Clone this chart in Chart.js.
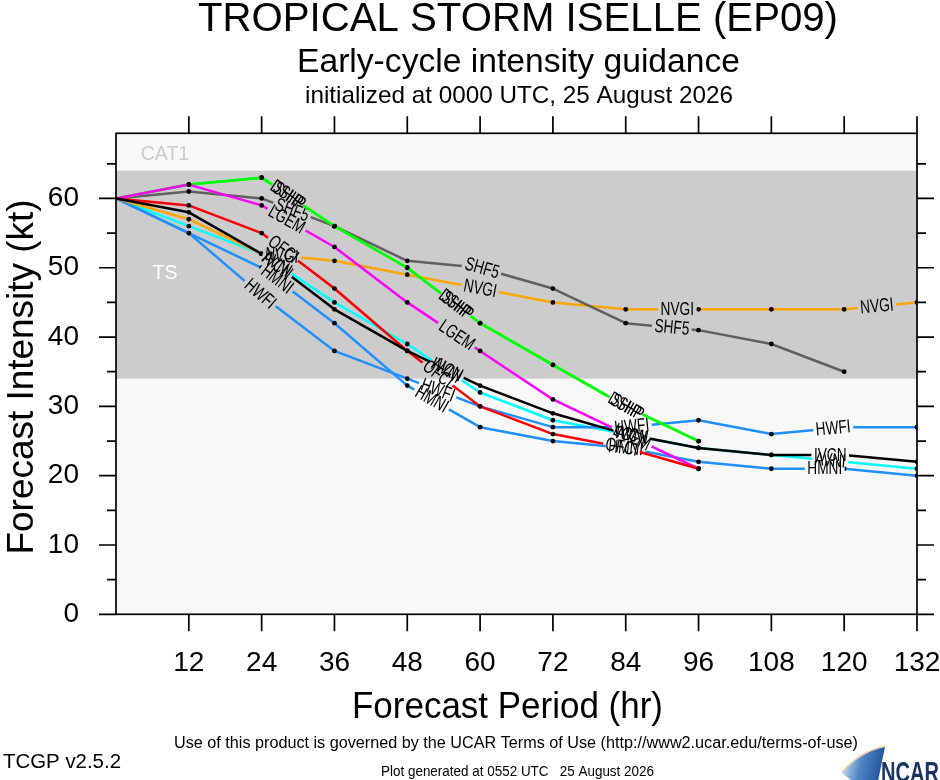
<!DOCTYPE html>
<html>
<head>
<meta charset="utf-8">
<script src="https://cdn.jsdelivr.net/npm/chart.js@4.4.1/dist/chart.umd.min.js"></script>
<style>
html,body{margin:0;padding:0;background:#ffffff;}
#wrap{width:940px;height:780px;position:relative;}
</style>
</head>
<body>
<div id="wrap"><canvas id="c" width="940" height="780"></canvas></div>
<script>
// ---------------- data ----------------
const hours  = [0, 12, 24, 36, 48, 60, 72, 84, 96, 108, 120, 132];
const xTicks = [12, 24, 36, 48, 60, 72, 84, 96, 108, 120, 132];
const yTicks = [0, 10, 20, 30, 40, 50, 60];
const yMinorTicks = [5, 15, 25, 35, 45, 55, 65];

const SHIP = [60, 62, 63, 56, 50, 42, 36, 30, 25, null, null, null];
const DSHP = [60, 62, 63, 56, 50, 42, 36, 30, 25, null, null, null];
const SHF5 = [60, 61, 60, 56, 51, 50, 47, 42, 41, 39, 35, null];
const LGEM = [60, 62, 59, 53, 45, 38, 31, 26, 21, null, null, null];
const OFCI = [60, 59, 55, 47, 38, 30, 26, 24, 21, null, null, null];
const NVGI = [60, 57, 52, 51, 49, 47, 45, 44, 44, 44, 44, 45];
const IVCN = [60, 58, 52, 44, 38, 33, 29, 26, 24, 23, 23, 22];
const AVNI = [60, 56, 52, 45, 39, 32, 28, 26, 24, 23, 22, 21];
const HWFI = [60, 55, 46, 38, 34, 30, 27, 27, 28, 26, 27, 27];
const HMNI = [60, 55, 50, 42, 33, 27, 25, 24, 22, 21, 21, 20];

const bandTS   = [34, 64];   // tropical storm intensity band (kt)
const bandText = ['CAT1', 'TS'];

const titleText    = 'TROPICAL STORM ISELLE (EP09)';
const subtitleText = 'Early-cycle intensity guidance';
const initText     = 'initialized at 0000 UTC, 25 August 2026';
const xTitleText   = 'Forecast Period (hr)';
const yTitleText   = 'Forecast Intensity (kt)';
const footerText   = 'Use of this product is governed by the UCAR Terms of Use (http://www2.ucar.edu/terms-of-use)';
const versionText  = 'TCGP v2.5.2';
const generatedText= 'Plot generated at 0552 UTC   25 August 2026';
const logoText     = 'NCAR';

// ---------------- styling (bottom-to-top draw order) ----------------
const seriesStyle = [
  {name:'AVNI', values:AVNI, color:'#00ffff', labelHours:[26.5, 54.5, 85, 117.7]},
  {name:'HWFI', values:HWFI, color:'#1e90ff', labelHours:[23.7, 53, 85, 118.2]},
  {name:'HMNI', values:HMNI, color:'#1e90ff', labelHours:[26.5, 52, 84, 116.8]},
  {name:'NVGI', values:NVGI, color:'#ffa500', labelHours:[27.3, 60, 92.5, 125.4]},
  {name:'SHF5', values:SHF5, color:'#606060', labelHours:[29, 60.3, 91.6]},
  {name:'DSHP', values:DSHP, color:'#00ff00', labelHours:[28.3, 56, 84]},
  {name:'SHIP', values:SHIP, color:'#00ff00', labelHours:[28.3, 56, 84]},
  {name:'LGEM', values:LGEM, color:'#ff00ff', labelHours:[28.1, 56.1, 85]},
  {name:'OFCI', values:OFCI, color:'#ff0000', labelHours:[27.5, 53, 83.3]},
  {name:'IVCN', values:IVCN, color:'#000000', labelHours:[26.5, 54.5, 85, 117.7]}
];

const FONT = '"Liberation Sans", Arial, Helvetica, sans-serif';
const LABEL_SIZE = 19, LABEL_SQUASH = 0.72;

const datasets = seriesStyle.map((s, i) => ({
  label: s.name,
  data: hours.map((h, k) => ({x: h, y: s.values[k]})).filter(p => p.y !== null),
  borderColor: s.color,
  backgroundColor: s.color,
  borderWidth: 2.5,
  pointRadius: ctx => (ctx.raw && ctx.raw.x === 0) ? 0 : 2.4,
  pointHoverRadius: 2.4,
  pointBackgroundColor: '#000000',
  pointBorderWidth: 0,
  tension: 0,
  fill: false,
  order: seriesStyle.length - i,
  labelHours: s.labelHours
}));

// ---------------- helpers ----------------
function fitText(ctx, text, x, y, opt) {
  ctx.save();
  ctx.font = (opt.weight || 'normal') + ' ' + opt.size + 'px ' + (opt.family || FONT);
  ctx.fillStyle = opt.color || '#000000';
  ctx.textBaseline = opt.baseline || 'alphabetic';
  ctx.textAlign = 'center';
  const w = ctx.measureText(text).width;
  const sx = opt.width ? opt.width / w : (opt.squash || 1);
  ctx.translate(x, y);
  if (opt.rotate) ctx.rotate(opt.rotate);
  ctx.scale(sx, 1);
  ctx.fillText(text, 0, 0);
  ctx.restore();
}

function labelBoxes(chart, idx) {
  const ds = chart.data.datasets[idx];
  const xs = chart.scales.x, ys = chart.scales.y;
  const pts = ds.data;
  const ctx = chart.ctx;
  ctx.save();
  ctx.font = LABEL_SIZE + 'px ' + FONT;
  const tw = ctx.measureText(ds.label).width * LABEL_SQUASH;
  ctx.restore();
  const out = [];
  (ds.labelHours || []).forEach(h => {
    for (let i = 0; i < pts.length - 1; i++) {
      const a = pts[i], b = pts[i + 1];
      if (h >= a.x && h <= b.x) {
        const t = (h - a.x) / (b.x - a.x);
        const v = a.y + (b.y - a.y) * t;
        const x1 = xs.getPixelForValue(a.x), y1 = ys.getPixelForValue(a.y);
        const x2 = xs.getPixelForValue(b.x), y2 = ys.getPixelForValue(b.y);
        out.push({x: xs.getPixelForValue(h), y: ys.getPixelForValue(v),
                  a: Math.atan2(y2 - y1, x2 - x1), w: tw, text: ds.label});
        break;
      }
    }
  });
  return out;
}

// ---------------- plugins ----------------
const bandPlugin = {
  id: 'bands',
  beforeDatasetsDraw(chart) {
    const {ctx, chartArea: ca, scales: {y}} = chart;
    ctx.save();
    ctx.fillStyle = '#f8f8f8';
    ctx.fillRect(ca.left, ca.top, ca.right - ca.left, ca.bottom - ca.top);
    const yTop = y.getPixelForValue(bandTS[1]);
    const yBot = y.getPixelForValue(bandTS[0]);
    ctx.fillStyle = '#cccccc';
    ctx.fillRect(ca.left, yTop, ca.right - ca.left, yBot - yTop);
    ctx.restore();
    fitText(ctx, bandText[0], ca.left + 49, (ca.top + yTop) / 2 + 7.5, {size: 21, color: '#cbcbcb', squash: 0.93});
    fitText(ctx, bandText[1], ca.left + 49, y.getPixelForValue(49.5) + 8, {size: 21, color: '#ffffff', squash: 0.93});
  }
};

const lineLabelPlugin = {
  id: 'lineLabels',
  beforeDatasetDraw(chart, args) {
    const ctx = chart.ctx;
    const boxes = labelBoxes(chart, args.index);
    ctx.save();
    ctx.beginPath();
    ctx.rect(0, 0, chart.width, chart.height);
    boxes.forEach(b => {
      const c = Math.cos(b.a), s = Math.sin(b.a);
      const hw = b.w / 2 + 2.5, hh = 8;
      const corners = [[-hw, -hh], [hw, -hh], [hw, hh], [-hw, hh]].map(([u, v]) => [b.x + u * c - v * s, b.y + u * s + v * c]);
      ctx.moveTo(corners[0][0], corners[0][1]);
      for (let k = 1; k < 4; k++) ctx.lineTo(corners[k][0], corners[k][1]);
      ctx.closePath();
    });
    ctx.clip('evenodd');
  },
  afterDatasetDraw(chart, args) {
    const ctx = chart.ctx;
    ctx.restore();
    labelBoxes(chart, args.index).forEach(b => {
      fitText(ctx, b.text, b.x, b.y + 0.5, {size: LABEL_SIZE, squash: LABEL_SQUASH, baseline: 'middle', rotate: b.a, color: '#000000'});
    });
  }
};

const framePlugin = {
  id: 'frame',
  afterDraw(chart) {
    const {ctx, chartArea: ca, scales: {x, y}} = chart;
    ctx.save();
    ctx.strokeStyle = '#000000';
    ctx.lineWidth = 1.7;
    ctx.strokeRect(ca.left, ca.top, ca.right - ca.left, ca.bottom - ca.top);
    ctx.beginPath();
    const major = 17, minor = 9;
    xTicks.forEach(v => {
      const px = x.getPixelForValue(v);
      ctx.moveTo(px, ca.bottom); ctx.lineTo(px, ca.bottom + major);
      ctx.moveTo(px, ca.top); ctx.lineTo(px, ca.top - major);
    });
    yTicks.forEach(v => {
      const py = y.getPixelForValue(v);
      ctx.moveTo(ca.left, py); ctx.lineTo(ca.left - major, py);
      ctx.moveTo(ca.right, py); ctx.lineTo(ca.right + major, py);
    });
    yMinorTicks.forEach(v => {
      const py = y.getPixelForValue(v);
      ctx.moveTo(ca.left, py); ctx.lineTo(ca.left - minor, py);
      ctx.moveTo(ca.right, py); ctx.lineTo(ca.right + minor, py);
    });
    ctx.stroke();
    ctx.restore();

    // titles and notes
    fitText(ctx, titleText, 518, 30.5, {size: 41, width: 640});
    fitText(ctx, subtitleText, 518.5, 71.5, {size: 33, width: 443});
    fitText(ctx, initText, 519, 103, {size: 24, width: 428});
    fitText(ctx, xTitleText, 507.5, 718, {size: 36, width: 311});
    fitText(ctx, yTitleText, 33, 377, {size: 36, width: 355, rotate: -Math.PI / 2});
    fitText(ctx, footerText, 516, 748, {size: 16, width: 684});
    fitText(ctx, versionText, 62, 768, {size: 20, width: 118});
    fitText(ctx, generatedText, 517.5, 776, {size: 14, width: 273});

    // NCAR logo
    ctx.save();
    const g = ctx.createLinearGradient(842, 760, 884, 770);
    g.addColorStop(0, '#cfe0f2');
    g.addColorStop(0.45, '#4f86c6');
    g.addColorStop(1, '#1d4f96');
    ctx.fillStyle = g;
    ctx.beginPath();
    ctx.moveTo(842, 773);
    ctx.quadraticCurveTo(860, 752, 885, 747);
    ctx.lineTo(878, 781);
    ctx.lineTo(852, 781);
    ctx.closePath();
    ctx.fill();
    ctx.strokeStyle = '#f3c98a';
    ctx.lineWidth = 1.2;
    ctx.beginPath();
    ctx.moveTo(842, 772);
    ctx.quadraticCurveTo(860, 751, 885, 746);
    ctx.stroke();
    ctx.restore();
    fitText(ctx, logoText, 910, 782, {size: 30, weight: 'bold', width: 58, color: '#1b3564'});
  }
};

// ---------------- chart ----------------
new Chart(document.getElementById('c'), {
  type: 'line',
  data: {datasets},
  options: {
    responsive: false,
    animation: false,
    devicePixelRatio: 1,
    layout: {padding: {left: 0, top: 133.3, right: 23, bottom: 0}},
    plugins: {legend: {display: false}, title: {display: false}, tooltip: {enabled: false}},
    elements: {line: {borderCapStyle: 'round', borderJoinStyle: 'round'}},
    scales: {
      x: {
        type: 'linear', position: 'bottom', min: 0, max: 132,
        grid: {display: false, drawTicks: false}, border: {display: false},
        ticks: {font: {size: 28, family: FONT}, color: '#000000', padding: 32, maxRotation: 0, autoSkip: false},
        afterBuildTicks: s => { s.ticks = xTicks.map(v => ({value: v})); },
        afterFit: s => { s.height = 165.7; s.paddingLeft = 0; s.paddingRight = 0; }
      },
      y: {
        type: 'linear', position: 'left', min: 0, max: 69.4,
        grid: {display: false, drawTicks: false}, border: {display: false},
        ticks: {font: {size: 28, family: FONT}, color: '#000000', padding: 37},
        afterBuildTicks: s => { s.ticks = yTicks.map(v => ({value: v})); },
        afterFit: s => { s.width = 116; s.paddingTop = 0; s.paddingBottom = 0; }
      }
    }
  },
  plugins: [bandPlugin, lineLabelPlugin, framePlugin]
});
</script>
</body>
</html>
